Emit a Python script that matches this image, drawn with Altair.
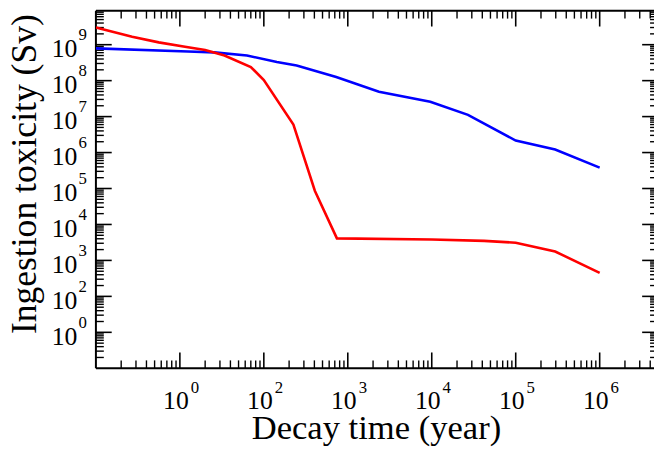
import altair as alt
import pandas as pd

# ---- data ----
red_t = [1, 2.7, 5.6, 11.5, 20, 34, 70, 100, 225, 405, 742, 1e4, 4.2e4, 1e5, 2.95e5, 1e6]
red_v = [3.0e9, 1.66e9, 1.16e9, 8.8e8, 7.1e8, 5.0e8, 2.4e8, 1.04e8, 6.0e6, 8.7e4,
         4.1e3, 3.8e3, 3.5e3, 3.1e3, 1.77e3, 4.5e2]
blue_t = [1, 12.5, 25.6, 63, 143, 246, 728, 2350, 9.6e3, 2.7e4, 1e5, 2.95e5, 1e6]
blue_v = [7.9e8, 6.5e8, 6.1e8, 5.0e8, 3.3e8, 2.65e8, 1.26e8, 4.9e7, 2.6e7, 1.12e7,
          2.16e6, 1.22e6, 3.8e5]

x_tick_values = [1e1, 1e2, 1e3, 1e4, 1e5, 1e6]
x_tick_exps = ["0", "2", "3", "4", "5", "6"]
y_tick_values = [1e1, 1e2, 1e3, 1e4, 1e5, 1e6, 1e7, 1e8, 1e9]
y_tick_exps = ["0", "2", "3", "4", "5", "6", "7", "8", "9"]
decades = [1, 1e1, 1e2, 1e3, 1e4, 1e5, 1e6, 1e7, 1e8, 1e9]
minor_mult = [2, 3, 4, 5, 6, 7, 8, 9]

x_title = "Decay time (year)"
y_title = "Ingestion toxicity (Sv)"

# ---- layout ----
W, H = 565, 362
WFULL = 569
XMAX = 10 ** (W / 85.0)
YMAX = 10 ** 9.945
FONT = "Liberation Serif"

xs = alt.Scale(type="log", domain=[1, XMAX], nice=False)
ys = alt.Scale(type="log", domain=[1, YMAX], nice=False)

red = pd.DataFrame({"t": red_t, "v": red_v})
blue = pd.DataFrame({"t": blue_t, "v": blue_v})

x_major = pd.DataFrame({"t": [v for v in x_tick_values if v <= XMAX]})
x_minor = pd.DataFrame({"t": [d * m for d in decades for m in minor_mult if d * m < XMAX]})
y_major = pd.DataFrame({"v": y_tick_values})
y_minor = pd.DataFrame({"v": [d * m for d in decades for m in minor_mult if d * m < YMAX]})

xlab = pd.DataFrame({"t": x_tick_values, "e": x_tick_exps})
ylab = pd.DataFrame({"v": y_tick_values, "e": y_tick_exps})
one = pd.DataFrame({"a": [0]})

X = alt.X("t:Q", scale=xs, axis=None)
Y = alt.Y("v:Q", scale=ys, axis=None)

def line(df, color):
    return alt.Chart(df).mark_line(color=color, strokeWidth=2.6, clip=True).encode(x=X, y=Y)

def xticks(df, y0, y1, w):
    return alt.Chart(df).mark_rule(color="black", strokeWidth=w).encode(
        x=X, y=alt.value(y0), y2=alt.value(y1))

def yticks(df, x0, x1, w):
    return alt.Chart(df).mark_rule(color="black", strokeWidth=w).encode(
        y=Y, x=alt.value(x0), x2=alt.value(x1))

layers = [
    xticks(x_major, H, H - 16, 1.6), xticks(x_minor, H, H - 8, 1.4),
    xticks(x_major, 0, 16, 1.6), xticks(x_minor, 0, 8, 1.4),
    yticks(y_major, 0, 16, 1.6), yticks(y_minor, 0, 8, 1.4),
    yticks(y_major, WFULL, WFULL - 16, 1.6), yticks(y_minor, WFULL, WFULL - 8, 1.4),
    alt.Chart(one).mark_rule(color="black", strokeWidth=2).encode(
        x=alt.value(0), y=alt.value(0), y2=alt.value(H)),
    alt.Chart(one).mark_rule(color="black", strokeWidth=2).encode(
        x=alt.value(0), x2=alt.value(W), y=alt.value(0)),
    alt.Chart(one).mark_rule(color="black", strokeWidth=2).encode(
        x=alt.value(0), x2=alt.value(W), y=alt.value(H)),
    line(blue, "#0000ff"),
    line(red, "#ff0000"),
    # x tick labels
    alt.Chart(xlab).mark_text(font=FONT, fontSize=26, align="right", baseline="alphabetic",
                              dx=9, text="10", color="black").encode(x=X, y=alt.value(403)),
    alt.Chart(xlab).mark_text(font=FONT, fontSize=17, align="left", baseline="alphabetic",
                              dx=11, color="black").encode(x=X, y=alt.value(387), text="e:N"),
    # y tick labels
    alt.Chart(ylab).mark_text(font=FONT, fontSize=26, align="right", baseline="alphabetic",
                              dy=12.7, text="10", color="black").encode(y=Y, x=alt.value(-18.7)),
    alt.Chart(ylab).mark_text(font=FONT, fontSize=17, align="left", baseline="alphabetic",
                              dy=-4.6, color="black").encode(y=Y, x=alt.value(-17.7), text="e:N"),
    # titles
    alt.Chart(one).mark_text(font=FONT, fontSize=35, align="center", baseline="alphabetic",
                             text=x_title, color="black").encode(x=alt.value(284), y=alt.value(434)),
    alt.Chart(one).mark_text(font=FONT, fontSize=36, align="center", baseline="alphabetic",
                             angle=270, text=y_title, color="black").encode(
        x=alt.value(-61), y=alt.value(165.5)),
]

chart = alt.layer(*layers).properties(
    width=W, height=H,
    autosize=alt.AutoSizeParams(type="none"),
    padding={"left": 89, "top": 0, "right": 0, "bottom": 81},
    background="white",
).configure_view(stroke=None)

chart.save("out.html", embed_options={"renderer": "svg", "actions": False})
